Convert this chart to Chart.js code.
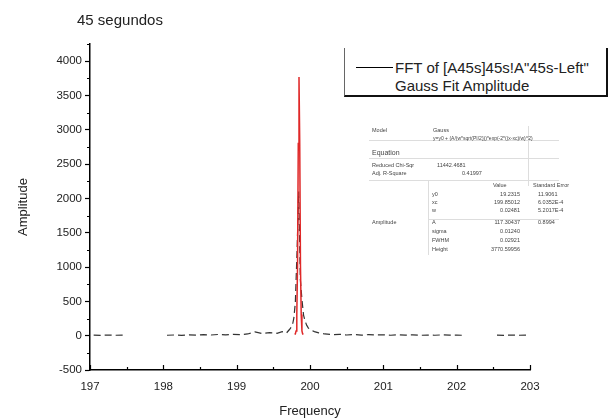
<!DOCTYPE html>
<html>
<head>
<meta charset="utf-8">
<script src="https://cdn.jsdelivr.net/npm/chart.js@4.4.1/dist/chart.umd.min.js"></script>
<style>
  html, body { margin: 0; padding: 0; background: #fff; }
  #wrap { position: relative; width: 610px; height: 420px; font-family: "Liberation Sans", Arial, sans-serif; color: #222; }
  #chart { position: absolute; left: 0; top: 0; }
  #title { position: absolute; left: 77px; top: 11px; font-size: 15px; }
  #legend { position: absolute; left: 344px; top: 48px; width: 261px; height: 47px;
            border-left: 1px solid #666; border-bottom: 2px solid #111; border-right: 2px solid #111; background: #fff; }
  #legend .sample { position: absolute; left: 11px; top: 19px; width: 37px; border-top: 1.5px solid #000; }
  #legend .t { position: absolute; left: 50px; font-size: 15px; white-space: nowrap; }
  #fit { position: absolute; left: 0; top: 0; width: 610px; height: 420px; pointer-events: none; }
  #fit span { position: absolute; white-space: nowrap; font-size: 5.5px; color: #444; line-height: 1; }
  #fit div { position: absolute; background: #ddd; }
</style>
</head>
<body>
<div id="wrap">
  <canvas id="chart" width="610" height="420"></canvas>
  <div id="title">45 segundos</div>
  <div id="legend">
    <div class="sample"></div>
    <div class="t" style="top:11px">FFT of [A45s]45s!A"45s-Left"</div>
    <div class="t" style="top:29px">Gauss Fit Amplitude</div>
  </div>
  <div id="fit"></div>
</div>
<script>
// FFT spectrum (null = gap in the trace)
var freq = [197.05, 197.15, 197.25, 197.35, 197.45, 197.5, 198.0, 198.05, 198.15, 198.25,
            198.35, 198.45, 198.55, 198.65, 198.75, 198.85, 198.95, 199.05, 199.15, 199.25,
            199.35, 199.45, 199.55, 199.62, 199.68, 199.72, 199.76, 199.78, 199.80, 199.824,
            199.846, 199.868, 199.89, 199.912, 199.934, 199.956, 199.978, 200.02, 200.06, 200.12,
            200.2, 200.3, 200.4, 200.5, 200.6, 200.7, 200.8, 200.9, 201.0, 201.1,
            201.2, 201.3, 201.4, 201.5, 201.6, 201.7, 201.8, 201.9, 202.0, 202.1,
            202.2, 202.5, 202.55, 202.65, 202.75, 202.85, 202.95];
var amplitude = [8, 5, 10, 6, 9, null, null, 6, 10, 4,
                 12, 8, 15, 10, 18, 12, 20, 15, 25, 55,
                 30, 45, 35, 60, 40, 90, 150, 260, 480, 1250,
                 2100, 820, 530, 300, 210, 150, 110, 80, 60, 40,
                 25, 15, 20, 10, 18, 8, 15, 10, 12, 6,
                 14, 8, 12, 5, 10, 6, 12, 8, 10, 5,
                 null, null, 8, 5, 10, 6, 9];

// Gauss fit curve
var fitFreq = [199.79, 199.80, 199.81, 199.82, 199.83, 199.84, 199.85, 199.86, 199.87, 199.88, 199.89, 199.90, 199.91];
var fitAmp  = [19, 25, 70, 310, 1020, 2800, 3770, 2800, 1020, 310, 70, 25, 19];

var xMin = 197, xMax = 203;
var yMin = -500, yMax = 4250;
var yTickValues = [-500, 0, 500, 1000, 1500, 2000, 2500, 3000, 3500, 4000];

Chart.defaults.font.family = "'Liberation Sans', Arial, sans-serif";
Chart.defaults.color = '#222';

// short ticks: y minor outward, x major/minor inward
var tickMarks = {
  id: 'tickMarks',
  afterDraw: function(chart) {
    var ctx = chart.ctx, x = chart.scales.x, y = chart.scales.y;
    ctx.save();
    ctx.strokeStyle = '#000';
    ctx.lineWidth = 1.2;
    ctx.beginPath();
    for (var v = yMin + 250; v <= yMax; v += 500) {
      var py = Math.round(y.getPixelForValue(v)) + 0.5;
      ctx.moveTo(x.left - 3, py); ctx.lineTo(x.left, py);
    }
    for (var f = xMin; f <= xMax; f += 0.5) {
      var px = Math.round(x.getPixelForValue(f)) + 0.5;
      var len = (f % 1 === 0) ? 5 : 3;
      ctx.moveTo(px, y.bottom); ctx.lineTo(px, y.bottom - len);
    }
    ctx.stroke();
    ctx.restore();
  }
};

new Chart(document.getElementById('chart'), {
  type: 'line',
  data: {
    datasets: [{
      label: 'Gauss Fit Amplitude',
      data: fitFreq.map(function(f, i){ return {x: f, y: fitAmp[i]}; }),
      borderColor: '#e02828',
      borderWidth: 1.5,
      pointRadius: 0,
      order: 0
    }, {
      label: 'FFT of [A45s]45s!A"45s-Left"',
      data: freq.map(function(f, i){ return {x: f, y: amplitude[i]}; }),
      borderColor: '#333',
      borderWidth: 1.2,
      borderDash: [7, 4],
      pointRadius: 0,
      spanGaps: false,
      order: 1
    }]
  },
  options: {
    responsive: false,
    animation: false,
    layout: { padding: { left: 0, right: 80, top: 44, bottom: 0 } },
    plugins: { legend: { display: false }, title: { display: false }, tooltip: { enabled: false } },
    scales: {
      x: {
        type: 'linear', min: xMin, max: xMax,
        ticks: { stepSize: 1, padding: 10, font: { size: 11.5 }, callback: function(v){ return String(v); } },
        grid: { drawOnChartArea: false, drawTicks: false },
        border: { color: '#000', width: 1.5 },
        title: { display: true, text: 'Frequency', font: { size: 13 }, padding: { top: 0, bottom: 1 } },
        afterFit: function(s) { s.height = 50; }
      },
      y: {
        min: yMin, max: yMax,
        ticks: { padding: 3, font: { size: 11.5 }, autoSkip: false, callback: function(v){ return String(v); } },
        afterBuildTicks: function(s) { s.ticks = yTickValues.map(function(v){ return {value: v}; }); },
        grid: { drawOnChartArea: false, tickLength: 5, tickColor: '#000', tickWidth: 1.2 },
        border: { color: '#000', width: 1.5 },
        title: { display: true, text: 'Amplitude', font: { size: 13 }, padding: { top: 16, bottom: 0 } },
        afterFit: function(s) { s.width = 90; }
      }
    }
  },
  plugins: [tickMarks]
});

// fit result table
var fitBox = document.getElementById('fit');
function txt(x, y, s, size, right) {
  var e = document.createElement('span');
  e.textContent = s;
  e.style.top = y + 'px';
  if (size) e.style.fontSize = size + 'px';
  if (right) { e.style.right = (610 - x) + 'px'; } else { e.style.left = x + 'px'; }
  fitBox.appendChild(e);
}
function rule(x, y, w, h) {
  var e = document.createElement('div');
  e.style.left = x + 'px'; e.style.top = y + 'px';
  e.style.width = w + 'px'; e.style.height = h + 'px';
  fitBox.appendChild(e);
}
rule(369, 140, 190, 1); rule(369, 158, 190, 1); rule(369, 180, 190, 1); rule(428, 219, 131, 1);
rule(528, 126, 1, 60); rule(428, 180, 1, 75);
txt(372, 128, 'Model'); txt(433, 128, 'Gauss');
txt(433, 136, 'y=y0 + (A/(w*sqrt(PI/2)))*exp(-2*((x-xc)/w)^2)', 5);
txt(372, 149, 'Equation', 7);
txt(372, 163, 'Reduced Chi-Sqr'); txt(437, 163, '11442.4681');
txt(372, 171, 'Adj. R-Square'); txt(462, 171, '0.41997');
txt(493, 183, 'Value'); txt(533, 183, 'Standard Error');
txt(432, 192, 'y0'); txt(520, 192, '19.2315', 0, true); txt(538, 192, '11.9061');
txt(432, 200, 'xc'); txt(520, 200, '199.85012', 0, true); txt(538, 200, '6.0352E-4');
txt(432, 208, 'w'); txt(520, 208, '0.02481', 0, true); txt(538, 208, '5.2017E-4');
txt(372, 220, 'Amplitude'); txt(432, 220, 'A'); txt(520, 220, '117.30437', 0, true); txt(538, 220, '0.8994');
txt(432, 229, 'sigma'); txt(520, 229, '0.01240', 0, true);
txt(432, 238, 'FWHM'); txt(520, 238, '0.02921', 0, true);
txt(432, 247, 'Height'); txt(520, 247, '3770.59956', 0, true);
</script>
</body>
</html>
